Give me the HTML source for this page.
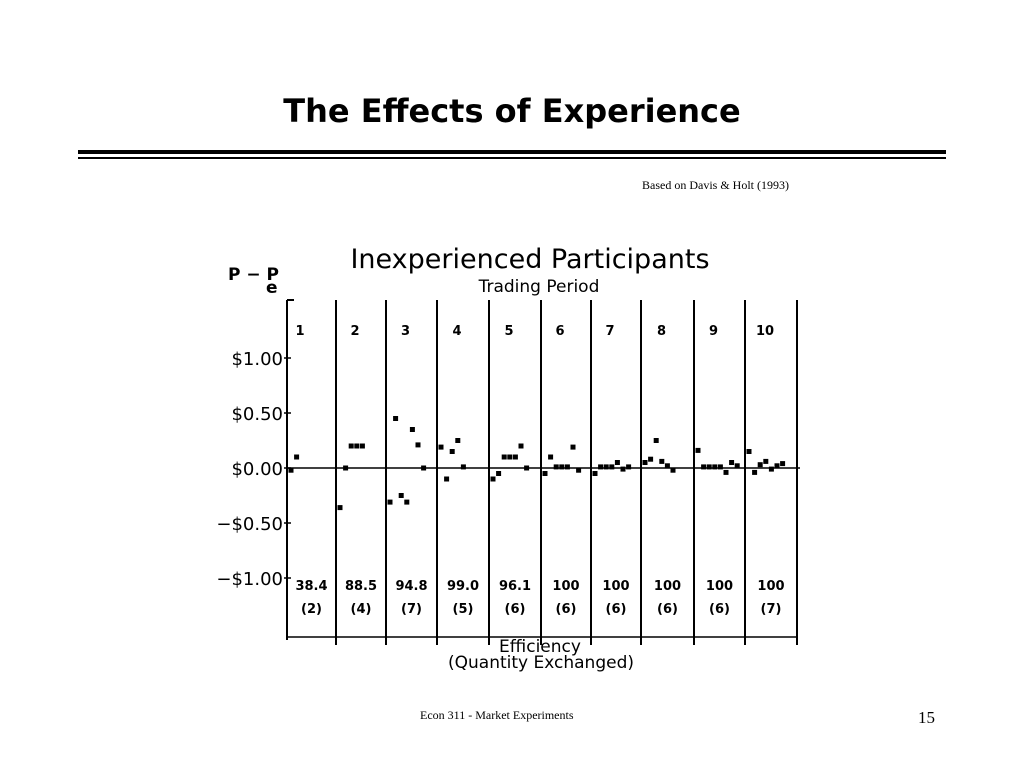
<!DOCTYPE html>
<html><head><meta charset="utf-8"><style>
body{margin:0;background:#fff;width:1024px;height:768px;overflow:hidden;position:relative;font-family:"Liberation Sans",sans-serif}
.a{position:absolute;white-space:nowrap}
</style></head><body>
<div class="a" style="left:0;width:1024px;top:92px;text-align:center;font:bold 32px 'DejaVu Sans',sans-serif;color:#000">The Effects of Experience</div>
<div class="a" style="left:78px;top:150px;width:868px;height:4px;background:#000"></div>
<div class="a" style="left:78px;top:157px;width:868px;height:2px;background:#000"></div>
<div class="a" style="left:642px;top:178px;font:12px 'Liberation Serif',serif">Based on Davis &amp; Holt (1993)</div>
<div class="a" style="left:420px;top:708px;font:12px 'Liberation Serif',serif">Econ 311 - Market Experiments</div>
<div class="a" style="left:918px;top:708px;font:17px 'Liberation Serif',serif">15</div>
<svg id="chart" width="1024" height="768" style="position:absolute;left:0;top:0" font-family="DejaVu Sans, sans-serif"></svg>
<script>
const periods=["1","2","3","4","5","6","7","8","9","10"];
const efficiency=["38.4","88.5","94.8","99.0","96.1","100","100","100","100","100"];
const quantity=["(2)","(4)","(7)","(5)","(6)","(6)","(6)","(6)","(6)","(7)"];
const yTicks=[1,0.5,0,-0.5,-1];
const yTickLabels=["$1.00","$0.50","$0.00","\u2212$0.50","\u2212$1.00"];
const p1=[-0.02,0.10];
const p2=[-0.36,0.00,0.20,0.20,0.20];
const p3=[-0.31,0.45,-0.25,-0.31,0.35,0.21,0.00];
const p4=[0.19,-0.10,0.15,0.25,0.01];
const p5=[-0.10,-0.05,0.10,0.10,0.10,0.20,0.00];
const p6=[-0.05,0.10,0.01,0.01,0.01,0.19,-0.02];
const p7=[-0.05,0.01,0.01,0.01,0.05,-0.01,0.01];
const p8=[0.05,0.08,0.25,0.06,0.02,-0.02];
const p9=[0.16,0.01,0.01,0.01,0.01,-0.04,0.05,0.02];
const p10=[0.15,-0.04,0.03,0.06,-0.01,0.02,0.04];
const series=[p1,p2,p3,p4,p5,p6,p7,p8,p9,p10];

const svg=document.getElementById('chart');
const NS='http://www.w3.org/2000/svg';
const bounds=[287,336,386,437,489,541,591,641,694,745,797];
function y(v){return 468-v*110;}
function mk(t,a){const e=document.createElementNS(NS,t);for(const k in a)e.setAttribute(k,a[k]);svg.appendChild(e);return e;}
function txt(s,x,yy,size,anchor,w){const e=mk('text',{x:x,y:yy,'font-size':size,'text-anchor':anchor||'middle','font-weight':w||'normal'});e.textContent=s;return e;}

let t=txt("Inexperienced Participants",530,268,27);

t=txt("Trading Period",539,292,17);

t=txt("P \u2212 P",228,280,17,'start','bold');

t=txt("e",266,293,17,'start','bold');


let l=mk('line',{x1:287,y1:300,x2:287,y2:640,stroke:'#000','stroke-width':2});

l=mk('line',{x1:287,y1:300,x2:294,y2:300,stroke:'#000','stroke-width':2});

l=mk('line',{x1:287,y1:y(0),x2:800,y2:y(0),stroke:'#000','stroke-width':1.5});

l=mk('line',{x1:287,y1:637,x2:798,y2:637,stroke:'#000','stroke-width':1.5});


yTicks.forEach((v,i)=>{
 const tk=mk('line',{x1:284,y1:y(v),x2:291,y2:y(v),stroke:'#000','stroke-width':1.5});
 
 
 const lb=txt(yTickLabels[i],283,y(v)+7,18,'end');
 
 
});

for(let i=1;i<bounds.length;i++){
 const vl=mk('line',{x1:bounds[i],y1:300,x2:bounds[i],y2:645,stroke:'#000','stroke-width':2});
 
 
}
periods.forEach((p,i)=>{
 const cx=(bounds[i]+bounds[i+1])/2;
 const a=txt(p,i==0?300:cx-6,335,13,'middle','bold');
 
 
 const b=txt(efficiency[i],cx,590,13,'middle','bold');
 
 
 const c=txt(quantity[i],cx,613,13,'middle','bold');
 
 
 series[i].forEach((v,j)=>{
  const px=bounds[i]+4+j*5.6;
  const r=mk('rect',{x:px-2.5,y:y(v)-2.5,width:5,height:5,fill:'#000'});
  
  
 });
});
t=txt("Efficiency",540,652,17);

t=txt("(Quantity Exchanged)",541,668,17);

</script>
</body></html>
